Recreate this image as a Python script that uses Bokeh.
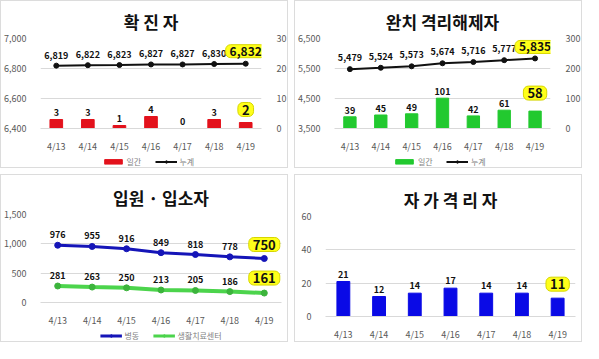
from bokeh.plotting import figure
from bokeh.layouts import row, column
from bokeh.models import (Range1d, LinearAxis, FixedTicker, Legend, LegendItem,
                          NumeralTickFormatter, FactorRange)
from bokeh.core.properties import value
from bokeh.embed import file_html
from bokeh.resources import INLINE

dates = ["4/13", "4/14", "4/15", "4/16", "4/17", "4/18", "4/19"]
conf_daily = [3, 3, 1, 4, 0, 3, 2]
conf_total = [6819, 6822, 6823, 6827, 6827, 6830, 6832]
rel_daily = [39, 45, 49, 101, 42, 61, 58]
rel_total = [5479, 5524, 5573, 5674, 5716, 5777, 5835]
hosp = [976, 955, 916, 849, 818, 778, 750]
center = [281, 263, 250, 213, 205, 186, 161]
self_iso = [21, 12, 14, 17, 14, 14, 11]

titles = ["확 진 자", "완치 격리해제자", "입원 · 입소자", "자 가 격 리 자"]
legend_labels = [["일간", "누계"], ["일간", "누계"], ["병동", "생활치료센터"]]

FONT = "Noto Sans CJK KR"
W, H, LH = 288, 168, 14
GRID = "#d9d9d9"
LBL = "#595959"
BORDER = "1px solid #dcdcdc"
HL_FILL = "#FFFF1A"
HL_LINE = "#D6D600"
RED, GREEN, BLUE = "#E3121C", "#22C92F", "#0A0AE6"
BLACK, LBLUE, LGREEN = "#111111", "#1515B8", "#4CD44C"


def fmt(v):
    return f"{v:,}"


def make_fig(title, ylim, yticks, borders, height):
    left, right, top, bottom = borders
    p = figure(x_range=FactorRange(*dates, range_padding=0), y_range=Range1d(*ylim),
               width=W, height=height, output_backend="svg", toolbar_location=None, tools="",
               min_border_left=left, min_border_right=right,
               min_border_top=top, min_border_bottom=bottom)
    p.title.text = title
    p.title.align = "center"
    p.title.text_font = FONT
    p.title.text_font_size = "17px"
    p.title.text_font_style = "bold"
    p.title.text_color = "#111111"
    p.outline_line_color = None
    p.xgrid.grid_line_color = None
    p.ygrid.grid_line_color = GRID
    p.yaxis.ticker = FixedTicker(ticks=yticks)
    p.yaxis.formatter = NumeralTickFormatter(format="0,0")
    for ax in (p.xaxis, p.yaxis):
        ax.major_label_text_font = FONT
        ax.major_label_text_font_size = "9px"
        ax.major_label_text_color = LBL
        ax.major_tick_line_color = None
        ax.minor_tick_line_color = None
    p.yaxis.axis_line_color = None
    p.xaxis.axis_line_color = GRID
    p.xaxis.major_label_standoff = 5
    p.yaxis.major_label_standoff = 8
    if height < H:
        p.styles = {"border": BORDER, "border-bottom": "none", "box-sizing": "border-box"}
    else:
        p.styles = {"border": BORDER, "box-sizing": "border-box"}
    return p


def right_axis(p, rng, ticks):
    p.extra_y_ranges = {"r": Range1d(*rng)}
    ax = LinearAxis(y_range_name="r", ticker=FixedTicker(ticks=ticks))
    ax.major_label_text_font = FONT
    ax.major_label_text_font_size = "9px"
    ax.major_label_text_color = LBL
    ax.major_tick_line_color = None
    ax.minor_tick_line_color = None
    ax.axis_line_color = None
    ax.major_label_standoff = 9
    p.add_layout(ax, "right")


def labels(p, vals, off, hl_off, size="9px", hl_size="12px", **kw):
    p.text(x=dates[:-1], y=vals[:-1], text=[fmt(v) for v in vals[:-1]],
           y_offset=-off, text_align="center", text_baseline="bottom",
           text_font=value(FONT), text_font_size=size, text_font_style="bold",
           text_color="#111111", **kw)
    p.text(x=[dates[-1]], y=[vals[-1]], text=[fmt(vals[-1])],
           y_offset=-hl_off, text_align="center", text_baseline="bottom",
           text_font=value(FONT), text_font_size=hl_size, text_font_style="bold",
           text_color="#111111", background_fill_color=HL_FILL,
           border_line_color=HL_LINE, padding=dict(x=4, y=2), border_radius=5, **kw)


def legend_fig(kinds, names):
    # legend-only strip: the series are mapped far outside the (tiny) y range,
    # so only their legend glyphs show
    lf = figure(width=W, height=LH, x_range=FactorRange(*dates), y_range=Range1d(1e6, 1e6 + 1),
                output_backend="svg", toolbar_location=None, tools="",
                min_border=0, min_border_left=0, min_border_right=0,
                min_border_top=0, min_border_bottom=0)
    lf.axis.visible = False
    lf.grid.visible = False
    lf.outline_line_color = None
    lf.styles = {"border": BORDER, "border-top": "none", "box-sizing": "border-box"}
    items = []
    for (kind, vals, col), name in zip(kinds, names):
        if kind == "bar":
            rs = [lf.vbar(x=dates, top=vals, width=0.1, color=col)]
        else:
            rs = [lf.line(x=dates, y=vals, color=col, line_width=2 if col == BLACK else 3),
                  lf.scatter(x=dates, y=vals, size=4, color=col)]
        items.append(LegendItem(label=name, renderers=rs))
    lg = Legend(items=items, orientation="horizontal", location="center",
                label_text_font=FONT, label_text_font_size="8px",
                label_text_color="#7f7f7f", glyph_width=22, glyph_height=6,
                label_height=8, label_standoff=3, spacing=8, padding=0,
                margin=0, border_line_color=None, background_fill_alpha=0)
    lf.add_layout(lg, "center")
    return lf


# Panel 1: 확진자
p1 = make_fig(titles[0], (6400, 7000), [6400, 6600, 6800, 7000], (39, 23, 31, 20), H - LH)
right_axis(p1, (0, 30), [0, 10, 20, 30])
p1.vbar(x=dates, top=conf_daily, width=0.4, color=RED, y_range_name="r")
p1.line(dates, conf_total, color=BLACK, line_width=2)
p1.scatter(dates, conf_total, size=5, color=BLACK)
labels(p1, conf_total, 7, 6)
labels(p1, conf_daily, 4, 6, hl_size="13px", y_range_name="r")
lf1 = legend_fig([("bar", conf_daily, RED), ("line", conf_total, BLACK)], legend_labels[0])

# Panel 2: 완치 격리해제자
p2 = make_fig(titles[1], (3500, 6500), [3500, 4500, 5500, 6500], (39, 23, 33, 26), H - LH)
right_axis(p2, (0, 300), [0, 100, 200, 300])
p2.vbar(x=dates, top=rel_daily, width=0.4, color=GREEN, y_range_name="r")
p2.line(dates, rel_total, color=BLACK, line_width=2)
p2.scatter(dates, rel_total, size=5, color=BLACK)
labels(p2, rel_total, 8, 5)
labels(p2, rel_daily, 3, 11, hl_size="13px", y_range_name="r")
lf2 = legend_fig([("bar", rel_daily, GREEN), ("line", rel_total, BLACK)], legend_labels[1])

# Panel 3: 입원 · 입소자
p3 = make_fig(titles[2], (0, 1500), [0, 500, 1000, 1500], (39, 8, 39, 18), H - LH)
p3.line(dates, hosp, color=LBLUE, line_width=3)
p3.scatter(dates, hosp, size=6, color=LBLUE)
p3.line(dates, center, color=LGREEN, line_width=4)
p3.scatter(dates, center, size=6, color="#3CB43C")
labels(p3, hosp, 7, 7, hl_size="13px")
labels(p3, center, 7, 8, hl_size="13px")
lf3 = legend_fig([("line", hosp, LBLUE), ("line", center, LGREEN)], legend_labels[2])

# Panel 4: 자가격리자
p4 = make_fig(titles[3], (0, 60), [0, 20, 40, 60], (30, 8, 41, 21), H)
p4.vbar(x=dates, top=self_iso, width=0.36, color=BLUE)
labels(p4, self_iso, 4, 7, hl_size="13px")

layout = column(
    row(column(p1, lf1, spacing=0), column(p2, lf2, spacing=0), spacing=6),
    row(column(p3, lf3, spacing=0), p4, spacing=6),
    spacing=6,
)

open("out.html", "w").write(file_html(layout, INLINE))
